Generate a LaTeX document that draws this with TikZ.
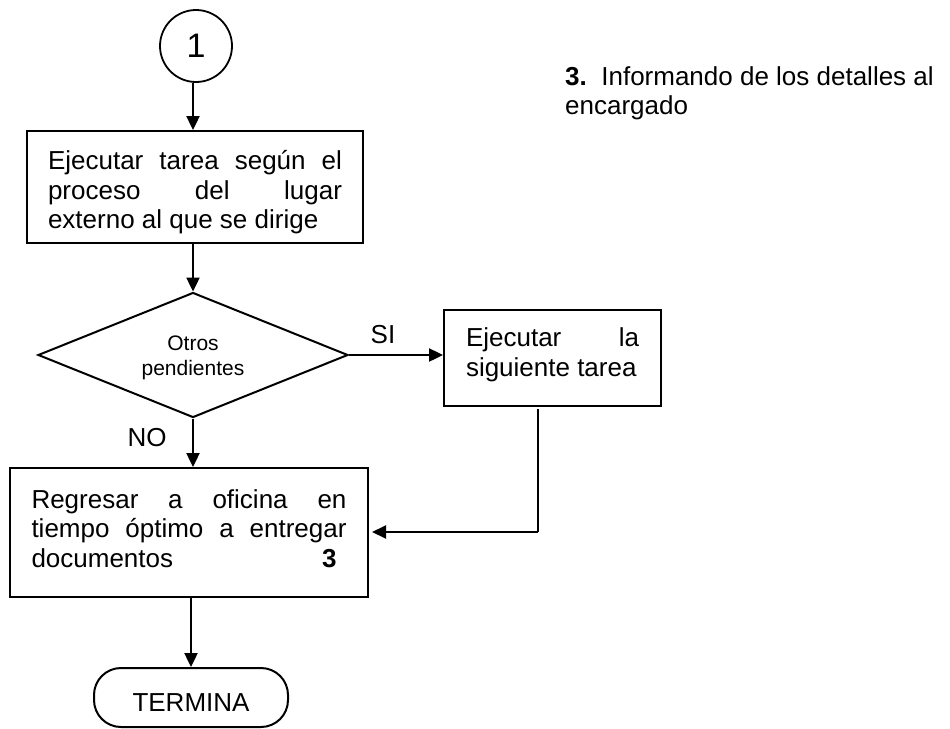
\documentclass[tikz,border=0pt]{standalone}
\usepackage{fontspec}
\setmainfont{Liberation Sans}
\usetikzlibrary{arrows.meta,shapes.geometric,calc}
\newcommand\bodyfont{\fontsize{26}{29.5}\selectfont}
\newcommand\smallerfont{\fontsize{21}{25}\selectfont}
\newcommand\jline[2]{\makebox[#1][s]{#2}}
\tikzset{
  procbox/.style={draw, line width=2pt, inner sep=0pt, align=left, font=\bodyfont},
  decbox/.style={draw, diamond, aspect=2.48, line width=2pt, inner sep=0pt, align=center, font=\smallerfont},
  termbox/.style={draw, line width=2pt, rounded corners=27pt, inner sep=0pt, font=\bodyfont},
  conn/.style={draw, circle, line width=1.8pt, inner sep=0pt, minimum size=72pt, font=\fontsize{34}{40}\selectfont},
  lbl/.style={inner sep=0pt, font=\bodyfont},
  arr/.style={line width=2.4pt, -{Triangle[length=14pt,width=13pt]}},
  thinarr/.style={line width=2pt, -{Triangle[length=14pt,width=13pt]}},
}
\begin{document}
\begin{tikzpicture}[x=1pt,y=-1pt]
\useasboundingbox (0,0) rectangle (950,728);

\node[conn] (c1) at (196,46) {1};
\node[procbox, minimum width=336pt, minimum height=112pt] (b1) at (195,187)
  {\rule{0pt}{30pt}\jline{294pt}{Ejecutar tarea según el}\\ \jline{294pt}{proceso del lugar}\\ externo al que se dirige};
\node[decbox, minimum width=310pt, minimum height=125pt] (d) at (193,355) {\rule{0pt}{21pt}Otros\\pendientes};
\node[procbox, minimum width=217pt, minimum height=96pt] (b2) at (552.5,358)
  {\jline{173pt}{Ejecutar la}\\ siguiente tarea\rule[-11.5pt]{0pt}{11.5pt}};
\node[procbox, minimum width=358pt, minimum height=129pt] (b3) at (189,532.5)
  {\jline{315pt}{Regresar a oficina en}\\ \jline{315pt}{tiempo óptimo a entregar}\\ \jline{315pt}{documentos\hfill\textbf{3}\hspace*{10pt}}\rule[-8pt]{0pt}{8pt}};
\node[termbox, minimum width=194pt, minimum height=59pt] (t) at (191,697.5) {\rule{0pt}{27pt}TERMINA};

\node[lbl] (si) at (383,335) {SI};
\node[lbl] (no) at (147,438) {NO};

\node[lbl, anchor=north west, align=left] (note) at (565,66)
  {\textbf{3.}\ \ Informando de los detalles al\\ encargado};

\coordinate (c1s) at ($(c1.south)+(-3,0)$);
\draw[arr] (c1s) -- (c1s |- b1.north);
\draw[arr] (d.north |- b1.south) -- (d.north);
\draw[arr] (d.east) -- (b2.west |- d.east);
\draw[arr] (d.south) -- (d.south |- b3.north);
\draw[arr] (t.north |- b3.south) -- (t.north);

\coordinate (r1) at (538,409);
\coordinate (r2) at (538,532);
\draw[line width=2pt] (r1) -- (r2);
\draw[thinarr, shorten >=3pt] (r2) -- (r2 -| b3.east);
\end{tikzpicture}
\end{document}
